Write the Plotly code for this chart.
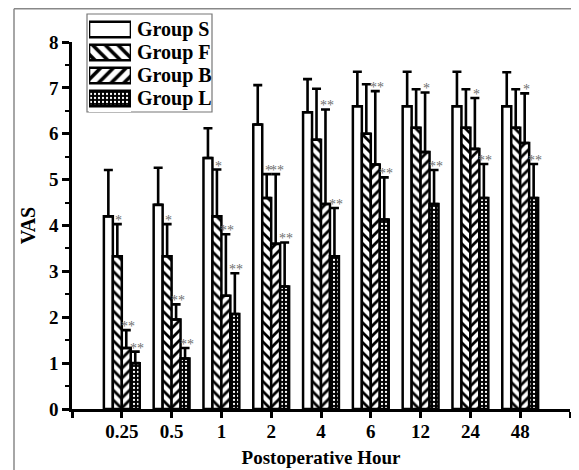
import plotly.graph_objects as go

hours = ["0.25", "0.5", "1", "2", "4", "6", "12", "24", "48"]
groups = ["Group S", "Group F", "Group B", "Group L"]

s_mean = [4.2, 4.45, 5.47, 6.2, 6.47, 6.6, 6.6, 6.6, 6.6]
s_sd = [1.01, 0.81, 0.65, 0.86, 0.72, 0.75, 0.75, 0.75, 0.74]
f_mean = [3.33, 3.33, 4.2, 4.6, 5.87, 6.0, 6.13, 6.13, 6.13]
f_sd = [0.7, 0.7, 1.02, 0.52, 1.11, 1.08, 0.84, 0.84, 0.84]
b_mean = [1.33, 1.95, 2.47, 3.6, 4.47, 5.33, 5.6, 5.67, 5.8]
b_sd = [0.39, 0.33, 1.34, 1.52, 2.06, 1.6, 1.3, 1.11, 1.08]
l_mean = [1.0, 1.1, 2.07, 2.67, 3.33, 4.13, 4.47, 4.6, 4.6]
l_sd = [0.25, 0.23, 0.89, 0.96, 1.05, 0.92, 0.74, 0.74, 0.74]

s_sig = [""] * 9
f_sig = ["*", "*", "*", "*", "", "", "", "", ""]
b_sig = ["**", "**", "**", "**", "**", "**", "*", "*", "*"]
l_sig = ["**"] * 9

means = [s_mean, f_mean, b_mean, l_mean]
sds = [s_sd, f_sd, b_sd, l_sd]
sigs = [s_sig, f_sig, b_sig, l_sig]

FONT = "Liberation Serif, Times New Roman, serif"
shapes_ = ["", "\\", "/", "."]
bgs = ["white", "white", "white", "black"]
fgs = ["black", "black", "black", "white"]
sizes = [8, 7, 7, 4]
solid = [0.3, 0.4, 0.4, 0.25]

x_pos = list(range(len(hours)))

fig = go.Figure()
for k, g in enumerate(groups):
    fig.add_trace(go.Bar(
        x=x_pos, y=means[k], name=g,
        marker=dict(color=bgs[k], line=dict(color="black", width=2.5),
                    pattern=dict(shape=shapes_[k], bgcolor=bgs[k], fgcolor=fgs[k],
                                 size=sizes[k], solidity=solid[k])),
        error_y=dict(type="data", array=sds[k], arrayminus=[0] * len(hours),
                     symmetric=False, color="black", thickness=2.6, width=4.5),
        showlegend=False,
    ))

# legend drawn as an inset of horizontal swatch bars
for k, g in enumerate(groups):
    fig.add_trace(go.Bar(
        y=[g], x=[1], orientation="h", xaxis="x2", yaxis="y2", width=0.68,
        offsetgroup="legend",
        marker=dict(color=bgs[k], line=dict(color="black", width=2.6),
                    pattern=dict(shape=shapes_[k], bgcolor=bgs[k], fgcolor=fgs[k],
                                 size=9 if k < 3 else 4, solidity=solid[k])),
        showlegend=False, hoverinfo="skip",
    ))

BG = 0.28
bw = (1 - BG) / 4

# page offset (browser body margin) compensation
O = 8
W, H = 579, 470
ml, mr, mt, mb = 72 - O, 579 - (570 - O), 0, 470 - (409 - O)
pw, ph = W - ml - mr, H - mt - mb
def px(X):
    return (X - O - ml) / pw
def py(Y):
    return (H - mb - (Y - O)) / ph

annots = []
for k in range(4):
    for i in range(len(hours)):
        if sigs[k][i]:
            annots.append(dict(
                x=i + (k - 1.5) * bw + 0.03, y=means[k][i] + sds[k][i],
                xref="x", yref="y", text=sigs[k][i], showarrow=False,
                xanchor="center", yanchor="bottom", yshift=-6,
                font=dict(family=FONT, size=14, color="#6e6e6e")))

for g in groups:
    annots.append(dict(x=px(135), xref="paper", y=g, yref="y2", text="<b>%s</b>" % g,
                       showarrow=False, xanchor="left", yanchor="middle",
                       font=dict(family=FONT, size=20, color="black")))

shapes = [
    dict(type="rect", xref="paper", yref="paper", x0=px(87), x1=px(212), y0=py(112), y1=py(14),
         line=dict(color="#777777", width=1.2), fillcolor="rgba(0,0,0,0)", layer="below"),
    dict(type="line", xref="paper", yref="paper", x0=px(14), x1=px(600), y0=py(8.8), y1=py(8.8),
         line=dict(color="#888888", width=1.5)),
    dict(type="line", xref="paper", yref="paper", x0=px(14), x1=px(14), y0=py(8.8), y1=py(490),
         line=dict(color="#888888", width=1.5)),
]

fig.update_layout(
    template="none",
    width=W, height=H, margin=dict(l=ml, r=mr, t=mt, b=mb, autoexpand=False),
    paper_bgcolor="white", plot_bgcolor="white",
    barmode="group", bargap=BG, bargroupgap=0, showlegend=False,
    font=dict(family=FONT, size=19, color="black"),
    annotations=annots, shapes=shapes,
    xaxis=dict(range=[-1, 9], tickmode="array", tickvals=list(range(-1, 10)),
               ticktext=[""] + ["<b>%s</b>" % h for h in hours] + [""],
               showline=True, linecolor="black", linewidth=2.5, automargin=False,
               ticks="outside", ticklen=6, tickwidth=2.5, tickcolor="black",
               ticklabelstandoff=-3,
               showgrid=False, zeroline=False,
               title=dict(text="<b>Postoperative Hour</b>", font=dict(size=19), standoff=11)),
    yaxis=dict(range=[0, 8], domain=[0, py(42)],
               tickmode="array", tickvals=list(range(9)), ticktext=["<b>%d</b>" % v for v in range(9)],
               showline=True, linecolor="black", linewidth=2.5, automargin=False,
               ticks="outside", ticklen=7, tickwidth=2.5, tickcolor="black",
               minor=dict(dtick=0.5, ticks="outside", ticklen=4, tickwidth=2, tickcolor="black"),
               showgrid=False, zeroline=False,
               title=dict(text="<b>VAS</b>", font=dict(size=20), standoff=8)),
    xaxis2=dict(domain=[px(89), px(131)], range=[0, 1], anchor="y2", visible=False, fixedrange=True),
    yaxis2=dict(domain=[py(112), py(16)], anchor="x2", visible=False, autorange="reversed",
                type="category", categoryorder="array", categoryarray=groups, fixedrange=True),
)

fig.write_html("out.html")
